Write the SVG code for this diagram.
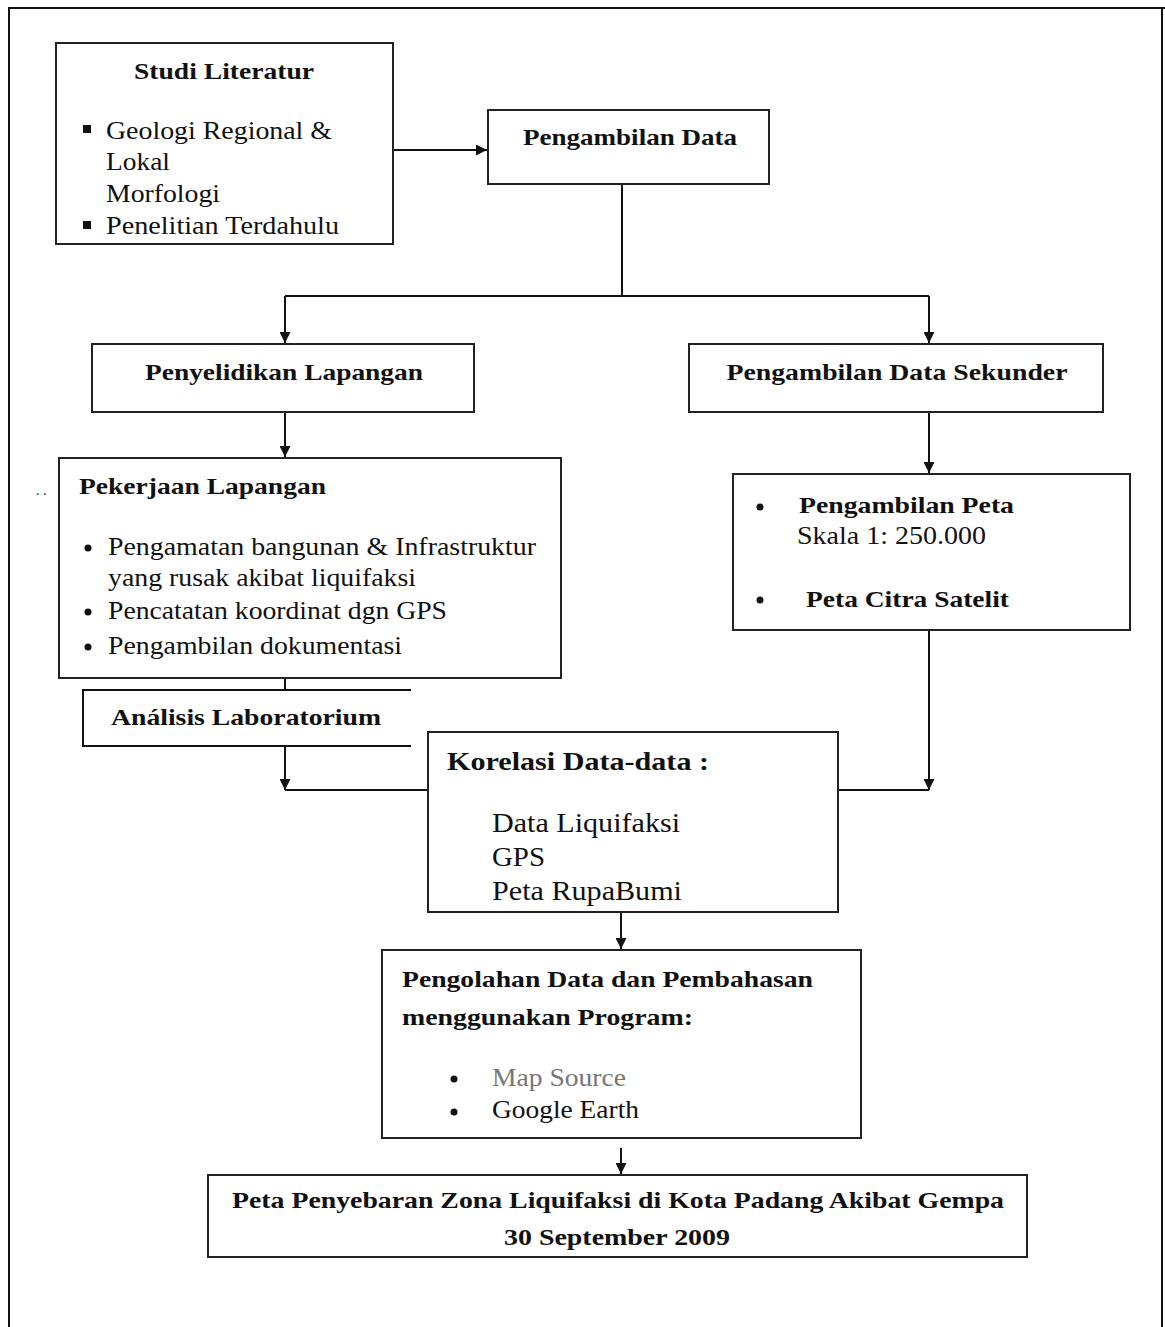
<svg xmlns="http://www.w3.org/2000/svg" width="1165" height="1327" viewBox="0 0 1165 1327">
<style>
.box{fill:#fff;stroke:#222;stroke-width:2}
.ln{fill:none;stroke:#111;stroke-width:2}
text{font-family:'Liberation Serif',serif;fill:#111}
.b{font-weight:bold}
.r{font-size:25px}
.h{font-size:23px}
</style>
<defs>
<marker id="ah" viewBox="0 0 10 10" refX="10" refY="5" markerWidth="11" markerHeight="11" markerUnits="userSpaceOnUse" orient="auto">
<path d="M0,0 L10,5 L0,10 z" fill="#111"/>
</marker>
</defs>
<rect width="1165" height="1327" fill="#fff"/>
<g id="frame">
<path class="ln" d="M9,1327 V8 H1165 M1162,8 V1327"/>
</g>
<g id="connectors">
<path class="ln" d="M393,150 H487" marker-end="url(#ah)"/>
<path class="ln" d="M622,184 V296"/>
<path class="ln" d="M285,296 H929"/>
<path class="ln" d="M285,296 V343" marker-end="url(#ah)"/>
<path class="ln" d="M929,296 V343" marker-end="url(#ah)"/>
<path class="ln" d="M285,412 V457" marker-end="url(#ah)"/>
<path class="ln" d="M929,412 V473" marker-end="url(#ah)"/>
<path class="ln" d="M285,678 V690"/>
<path class="ln" d="M285,746 V790" marker-end="url(#ah)"/>
<path class="ln" d="M285,790 H428"/>
<path class="ln" d="M929,630 V790" marker-end="url(#ah)"/>
<path class="ln" d="M838,790 H929"/>
<path class="ln" d="M621,905 V949" marker-end="url(#ah)" stroke-width="1.5"/>
<path class="ln" d="M621,1148 V1174" marker-end="url(#ah)" stroke-width="1.5"/>
</g>
<g id="studi-literatur">
<rect class="box" x="56" y="43" width="337" height="201"/>
<text class="b h" x="224" y="79" text-anchor="middle" textLength="180" lengthAdjust="spacingAndGlyphs">Studi Literatur</text>
<rect x="83" y="125" width="8" height="8" fill="#111"/>
<rect x="83" y="221" width="8" height="8" fill="#111"/>
<text class="r" x="106" y="139" textLength="226" lengthAdjust="spacingAndGlyphs">Geologi Regional &amp;</text>
<text class="r" x="106" y="170" textLength="64" lengthAdjust="spacingAndGlyphs">Lokal</text>
<text class="r" x="106" y="202" textLength="114" lengthAdjust="spacingAndGlyphs">Morfologi</text>
<text class="r" x="106" y="234" textLength="233" lengthAdjust="spacingAndGlyphs">Penelitian Terdahulu</text>
</g>
<g id="pengambilan-data">
<rect class="box" x="488" y="110" width="281" height="74"/>
<text class="b h" x="630" y="145" text-anchor="middle" textLength="214" lengthAdjust="spacingAndGlyphs">Pengambilan Data</text>
</g>
<g id="penyelidikan-lapangan">
<rect class="box" x="92" y="344" width="382" height="68"/>
<text class="b h" x="284" y="380" text-anchor="middle" textLength="278" lengthAdjust="spacingAndGlyphs">Penyelidikan Lapangan</text>
</g>
<g id="pengambilan-data-sekunder">
<rect class="box" x="689" y="344" width="414" height="68"/>
<text class="b h" x="897" y="380" text-anchor="middle" textLength="341" lengthAdjust="spacingAndGlyphs">Pengambilan Data Sekunder</text>
</g>
<g id="pekerjaan-lapangan">
<rect class="box" x="59" y="458" width="502" height="220"/>
<text x="36" y="495" font-size="14">. .</text>
<text class="b h" x="79" y="494" textLength="247" lengthAdjust="spacingAndGlyphs">Pekerjaan Lapangan</text>
<circle cx="88" cy="548" r="3.5" fill="#111"/>
<circle cx="88" cy="612" r="3.5" fill="#111"/>
<circle cx="88" cy="647" r="3.5" fill="#111"/>
<text class="r" x="108" y="555" textLength="428" lengthAdjust="spacingAndGlyphs">Pengamatan bangunan &amp; Infrastruktur</text>
<text class="r" x="108" y="586" textLength="308" lengthAdjust="spacingAndGlyphs">yang rusak akibat liquifaksi</text>
<text class="r" x="108" y="619" textLength="339" lengthAdjust="spacingAndGlyphs">Pencatatan koordinat dgn GPS</text>
<text class="r" x="108" y="654" textLength="294" lengthAdjust="spacingAndGlyphs">Pengambilan dokumentasi</text>
</g>
<g id="analisis-laboratorium">
<path class="ln" d="M411,690 H83 V746 H411" fill="#fff"/>
<text class="b h" x="111" y="725" textLength="270" lengthAdjust="spacingAndGlyphs">Análisis Laboratorium</text>
</g>
<g id="pengambilan-peta">
<rect class="box" x="733" y="474" width="397" height="156"/>
<circle cx="760" cy="507" r="3.5" fill="#111"/>
<circle cx="760" cy="600" r="3.5" fill="#111"/>
<text class="b h" x="799" y="513" textLength="215" lengthAdjust="spacingAndGlyphs">Pengambilan Peta</text>
<text class="r" x="797" y="544" textLength="189" lengthAdjust="spacingAndGlyphs">Skala 1: 250.000</text>
<text class="b h" x="806" y="607" textLength="203" lengthAdjust="spacingAndGlyphs">Peta Citra Satelit</text>
</g>
<g id="korelasi-data">
<rect class="box" x="428" y="732" width="410" height="180"/>
<text class="b" x="447" y="770" font-size="26" textLength="262" lengthAdjust="spacingAndGlyphs">Korelasi Data-data :</text>
<text x="492" y="832" font-size="27" textLength="188" lengthAdjust="spacingAndGlyphs">Data Liquifaksi</text>
<text x="492" y="866" font-size="27" textLength="53" lengthAdjust="spacingAndGlyphs">GPS</text>
<text x="492" y="900" font-size="27" textLength="190" lengthAdjust="spacingAndGlyphs">Peta RupaBumi</text>
</g>
<g id="pengolahan-data">
<rect class="box" x="382" y="950" width="479" height="188"/>
<text class="b h" x="402" y="987" textLength="411" lengthAdjust="spacingAndGlyphs">Pengolahan Data dan Pembahasan</text>
<text class="b h" x="402" y="1025" textLength="291" lengthAdjust="spacingAndGlyphs">menggunakan Program:</text>
<circle cx="454" cy="1079" r="3.5" fill="#111"/>
<circle cx="454" cy="1112" r="3.5" fill="#111"/>
<text class="r" x="492" y="1086" style="fill:#777" textLength="134" lengthAdjust="spacingAndGlyphs">Map Source</text>
<text class="r" x="492" y="1118" textLength="147" lengthAdjust="spacingAndGlyphs">Google Earth</text>
</g>
<g id="peta-penyebaran">
<rect class="box" x="208" y="1175" width="819" height="82"/>
<text class="b h" x="618" y="1208" text-anchor="middle" textLength="772" lengthAdjust="spacingAndGlyphs">Peta Penyebaran Zona Liquifaksi di Kota Padang Akibat Gempa</text>
<text class="b h" x="617" y="1245" text-anchor="middle" textLength="226" lengthAdjust="spacingAndGlyphs">30 September 2009</text>
</g>
</svg>
